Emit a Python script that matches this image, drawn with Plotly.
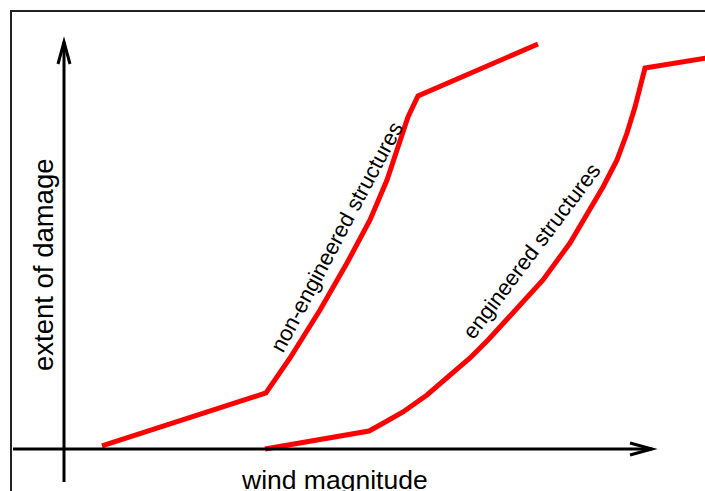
import plotly.graph_objects as go

# Data (wind magnitude vs extent of damage, arbitrary units 0-100)
non_eng_wind = [6.46, 34.35, 38.44, 43.54, 48.13, 52.04, 54.93, 57.14, 58.50, 60.20, 80.61]
non_eng_damage = [0.74, 13.76, 22.36, 34.15, 45.70, 56.27, 66.09, 75.18, 81.57, 86.73, 99.51]

eng_wind = [34.18, 51.87, 53.74, 57.65, 61.73, 65.14, 69.05, 72.11, 76.36, 81.46, 86.05,
            89.46, 91.67, 94.05, 95.75, 97.11, 97.96, 98.81, 110.2]
eng_damage = [0.0, 4.42, 5.90, 9.09, 13.27, 17.44, 22.36, 26.78, 33.42, 41.52, 50.61,
              59.21, 64.37, 71.01, 77.64, 84.03, 88.94, 93.61, 96.3]

x_label = "wind magnitude"
y_label = "extent of damage"
label_non_eng = "non-engineered structures"
label_eng = "engineered structures"

XR = [-10.884, 109.014]
YR = [-10.319, 110.319]
FONT = "Liberation Sans, Arial, sans-serif"

fig = go.Figure()
fig.add_trace(go.Scatter(x=non_eng_wind, y=non_eng_damage, mode="lines",
                         line=dict(color="#ff0000", width=5), showlegend=False,
                         hoverinfo="skip"))
fig.add_trace(go.Scatter(x=eng_wind, y=eng_damage, mode="lines",
                         line=dict(color="#ff0000", width=5), showlegend=False,
                         hoverinfo="skip"))

shapes = []
# border
shapes.append(dict(type="rect", xref="paper", yref="paper",
                   x0=11/705, x1=1.1, y0=-0.1, y1=1 - 11/491,
                   line=dict(color="#222222", width=2), fillcolor="rgba(0,0,0,0)", layer="below"))
# axes lines
shapes.append(dict(type="line", xref="x", yref="y", x0=-8.67, x1=100, y0=0, y1=0,
                   line=dict(color="black", width=3)))
shapes.append(dict(type="line", xref="x", yref="y", x0=0, x1=0, y0=-8.11, y1=100,
                   line=dict(color="black", width=3)))
# arrowheads (chevrons)
shapes.append(dict(type="path", xref="x", yref="y",
                   path="M 96.26,1.47 L 100,0 L 96.26,-1.47",
                   line=dict(color="black", width=3)))
shapes.append(dict(type="path", xref="x", yref="y",
                   path="M -1.02,94.6 L 0,100 L 1.02,94.6",
                   line=dict(color="black", width=3)))

annotations = [
    dict(x=(334.5 - 64) / 5.88, y=(449 - 480) / 4.07, xref="x", yref="y",
         text=x_label, showarrow=False, font=dict(family=FONT, size=26.5, color="black"),
         xanchor="center", yanchor="middle"),
    dict(x=(43 - 64) / 5.88, y=(449 - 265) / 4.07, xref="x", yref="y",
         text=y_label, showarrow=False, textangle=-90,
         font=dict(family=FONT, size=27.5, color="black"),
         xanchor="center", yanchor="middle"),
    dict(x=(336 - 64) / 5.88, y=(449 - 237) / 4.07, xref="x", yref="y",
         text=label_non_eng, showarrow=False, textangle=-62,
         font=dict(family=FONT, size=22, color="black"),
         xanchor="center", yanchor="middle"),
    dict(x=(531 - 64) / 5.88, y=(449 - 251) / 4.07, xref="x", yref="y",
         text=label_eng, showarrow=False, textangle=-53,
         font=dict(family=FONT, size=22, color="black"),
         xanchor="center", yanchor="middle"),
]

fig.update_layout(
    width=705, height=491,
    margin=dict(l=0, r=0, t=0, b=0),
    paper_bgcolor="white", plot_bgcolor="white",
    xaxis=dict(range=XR, visible=False, fixedrange=True),
    yaxis=dict(range=YR, visible=False, fixedrange=True),
    shapes=shapes, annotations=annotations,
)

fig.write_html("out.html",
               config={"displayModeBar": False, "staticPlot": True},
               post_script="document.body.style.margin='0';document.body.style.overflow='hidden';")
